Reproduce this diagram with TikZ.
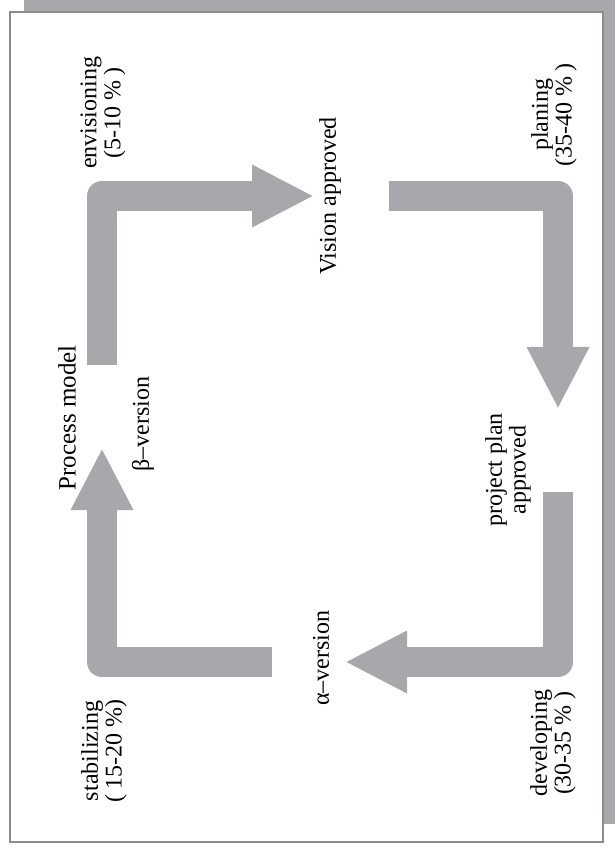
\documentclass[tikz,border=0pt]{standalone}
\usepackage{fontspec}
\setmainfont{Liberation Serif}
\usetikzlibrary{arrows.meta}
\definecolor{gris}{HTML}{A7A8AB}
\definecolor{borde}{HTML}{8B8C8F}
\begin{document}
\begin{tikzpicture}[x=0.5pt,y=-0.5pt,
    flecha/.style={color=gris, line width=15pt, line join=round,
                   -{Triangle[length=31pt,width=29pt]}},
    etiqueta/.style={rotate=90, align=center, inner sep=0pt,
                     font=\fontsize{12}{10}\selectfont}]
    \useasboundingbox (0,0) rectangle (615,849);
    % Sombra y marco
    \fill[gris] (24,0) rectangle (615,824);
    \draw[borde, line width=1.2pt, fill=white] (10,12) rectangle (603,842);
    % Titulo
    \node[etiqueta, font=\fontsize{12.5}{15}\selectfont] (titulo) at (67,418) {Process model};
    % Fases
    \node[etiqueta] (envision) at (103,113) {envisioning\\(5-10 \% )};
    \node[etiqueta] (planing)  at (554,115) {planing\\(35-40 \% )};
    \node[etiqueta] (develop)  at (553,743) {developing\\(30-35 \% )};
    \node[etiqueta] (stabil)   at (104,751) {stabilizing\\( 15-20 \%)};
    % Hitos
    \node[etiqueta] (vision) at (330,196) {Vision approved};
    \node[etiqueta] (plan)   at (508,470) {project plan\\approved};
    \node[etiqueta] (alfa)   at (321,658) {α--version};
    \node[etiqueta] (beta)   at (143,424) {β--version};
    % Extremos de las flechas
    \coordinate (beta-sal)   at (102,365);
    \coordinate (vision-ent) at (314,196);
    \coordinate (vision-sal) at (389,196);
    \coordinate (plan-ent)   at (558,409);
    \coordinate (plan-sal)   at (558,492);
    \coordinate (alfa-ent)   at (345,662);
    \coordinate (alfa-sal)   at (272,662);
    \coordinate (beta-ent)   at (102,448);
    % Flechas
    \draw[flecha] (beta-sal)   |- (vision-ent);
    \draw[flecha] (vision-sal) -| (plan-ent);
    \draw[flecha] (plan-sal)   |- (alfa-ent);
    \draw[flecha] (alfa-sal)   -| (beta-ent);
\end{tikzpicture}
\end{document}
